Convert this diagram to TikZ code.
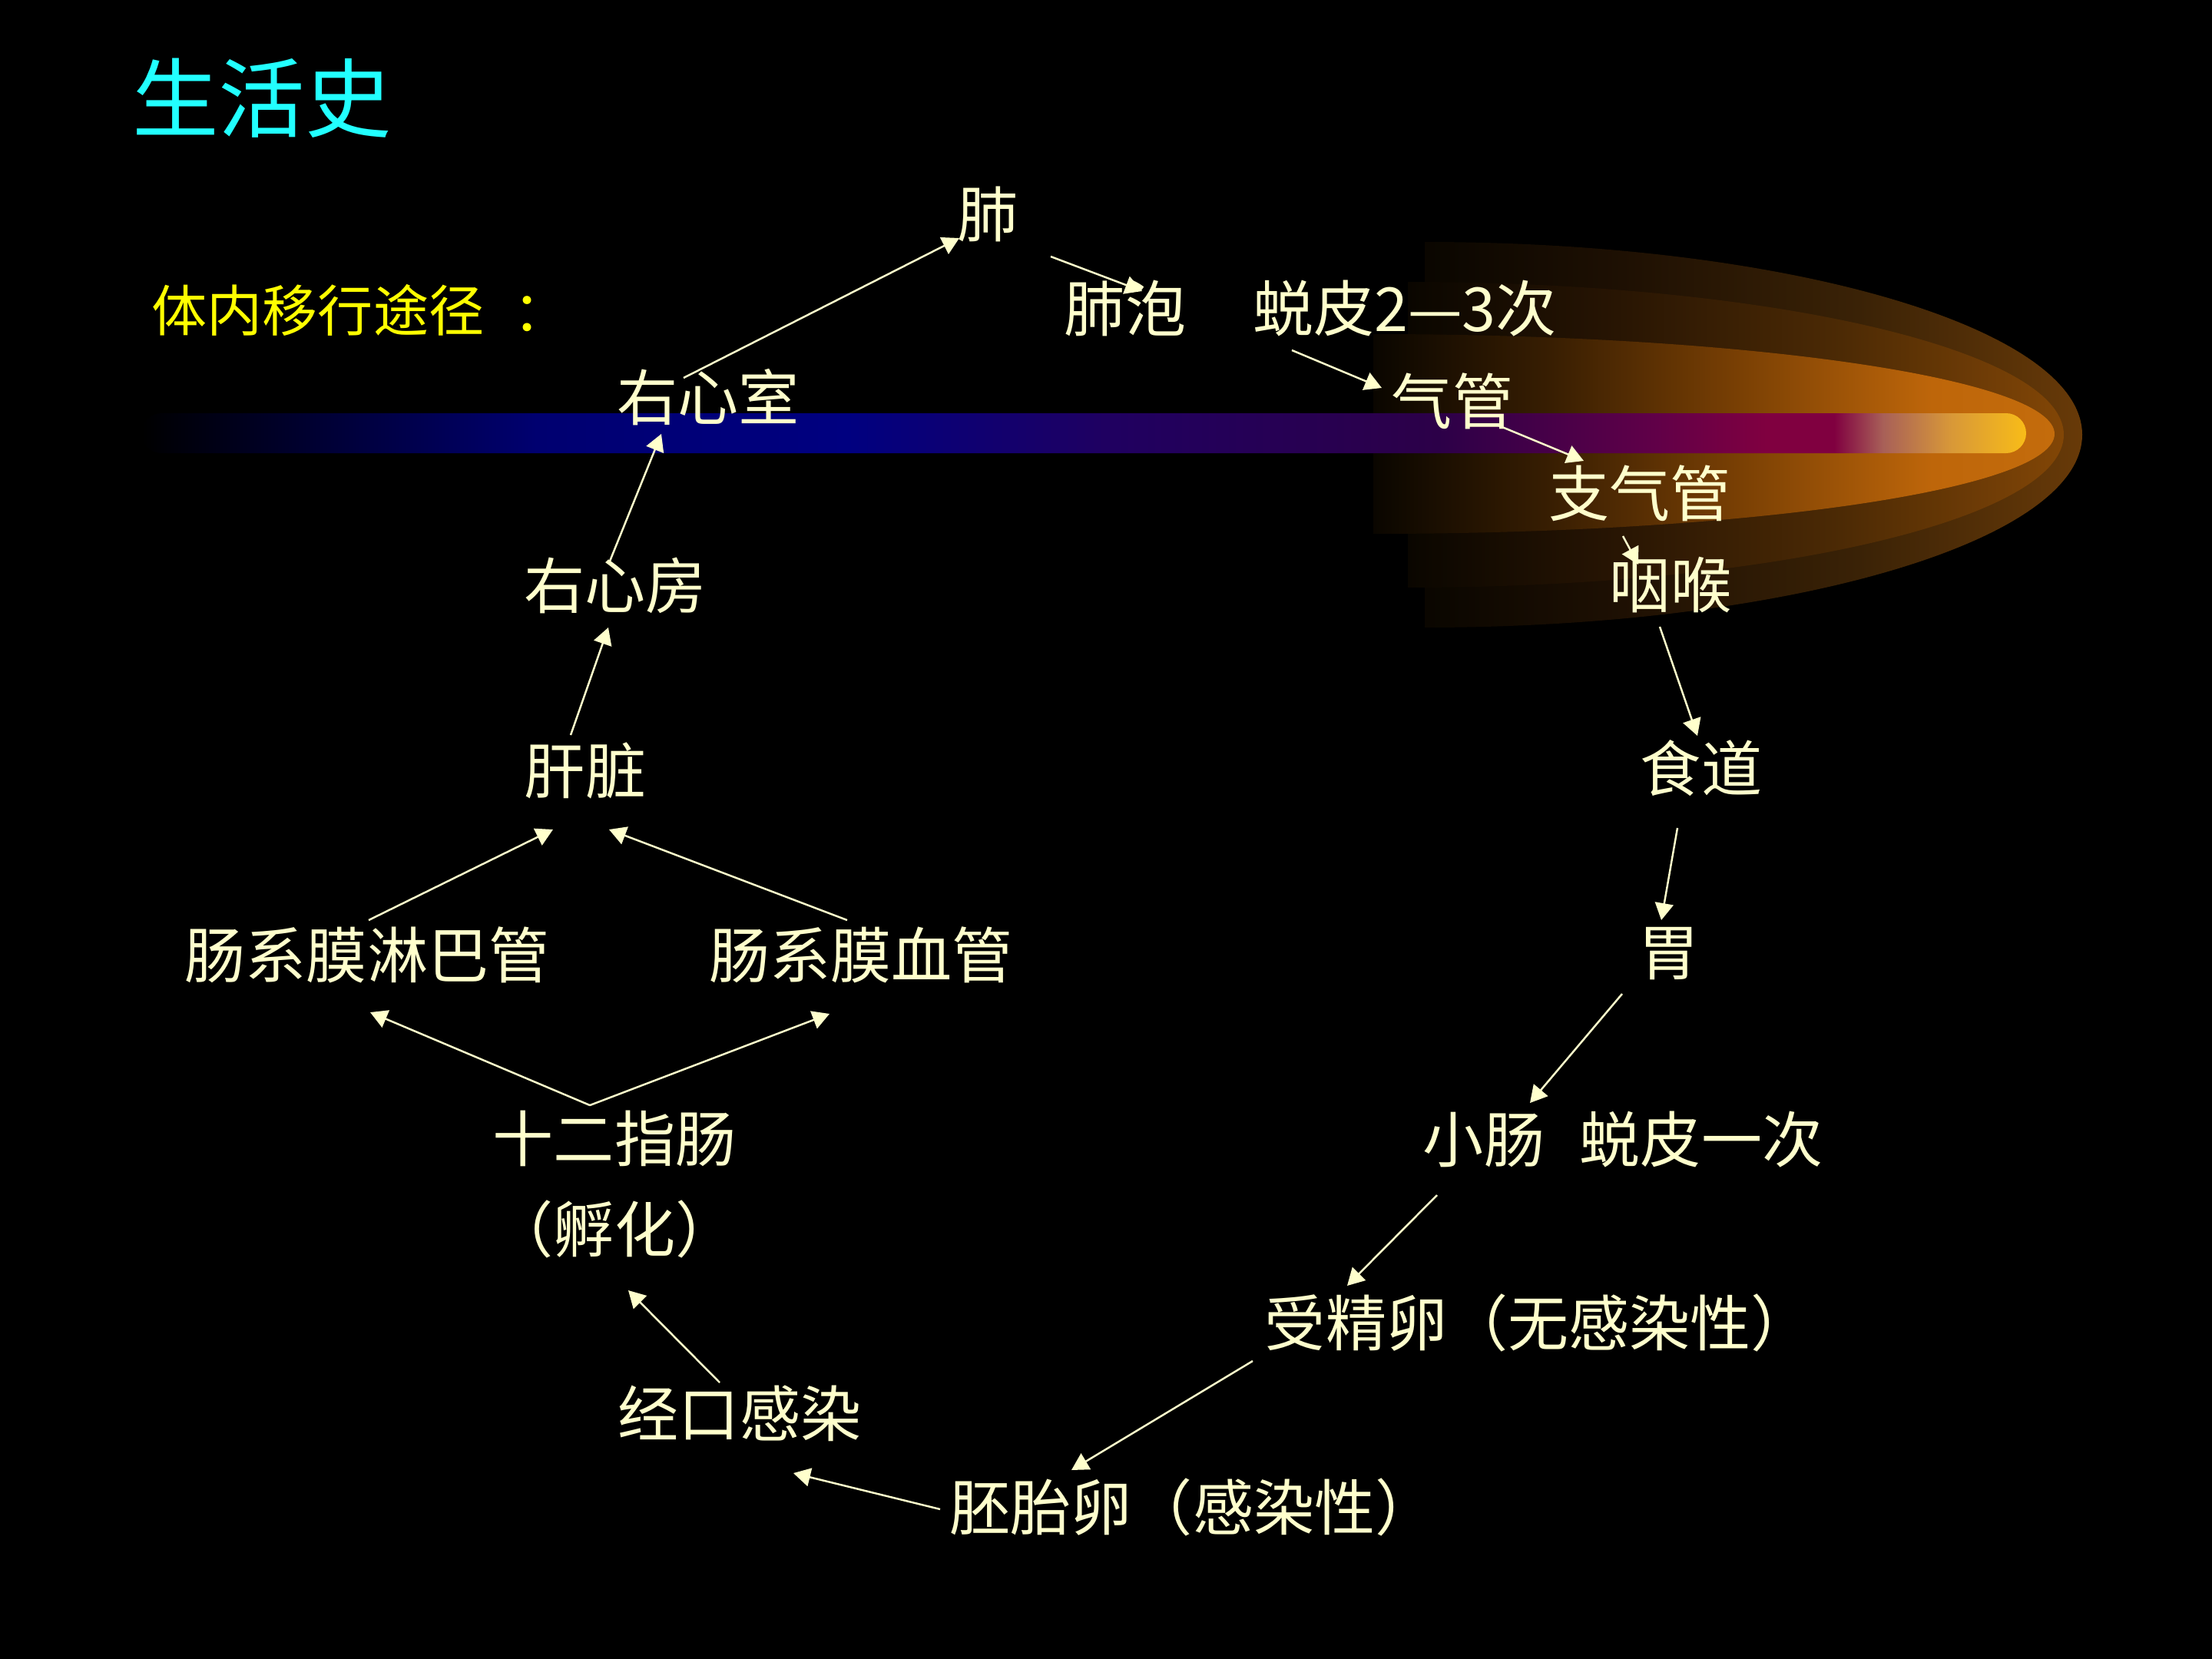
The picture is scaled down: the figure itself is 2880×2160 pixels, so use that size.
\documentclass[tikz,border=0pt]{standalone}
\usepackage{fontspec}
\newfontfamily\cjk{Noto Sans CJK SC}
\usetikzlibrary{arrows.meta}
\usepackage{xcolor}

\definecolor{cream}{HTML}{FFFFCC}
\definecolor{titlecyan}{HTML}{22FFFF}
\definecolor{routeyellow}{HTML}{FFFF00}
% bar colours, left to right
\definecolor{barA}{HTML}{000030}
\definecolor{barB}{HTML}{000070}
\definecolor{barC}{HTML}{000080}
\definecolor{barD}{HTML}{200060}
\definecolor{barE}{HTML}{2C0048}
\definecolor{barF}{HTML}{600048}
\definecolor{barG}{HTML}{800040}
\definecolor{barH}{HTML}{A86058}
\definecolor{barI}{HTML}{D89838}
\definecolor{barJ}{HTML}{F8BC18}
% glow colours
\definecolor{glowdark}{HTML}{0A0600}
\definecolor{gA1}{HTML}{1E1003}
\definecolor{gA2}{HTML}{3A2206}
\definecolor{gA3}{HTML}{683A08}
\definecolor{gB1}{HTML}{261403}
\definecolor{gB2}{HTML}{4C2A05}
\definecolor{gB3}{HTML}{824606}
\definecolor{gC1}{HTML}{381E02}
\definecolor{gC2}{HTML}{7A4004}
\definecolor{gC3}{HTML}{BE660A}
\definecolor{gC4}{HTML}{C46C0C}

\pgfdeclarehorizontalshading{barshade}{100bp}{color(0bp)=(black); color(25bp)=(black);
  color(29.4bp)=(barA); color(35.5bp)=(barB); color(43.7bp)=(barC); color(50.8bp)=(barD);
  color(59.4bp)=(barE); color(65.1bp)=(barF); color(68.1bp)=(barG); color(69.9bp)=(barG);
  color(71.2bp)=(barH); color(73bp)=(barI); color(75bp)=(barJ); color(100bp)=(barJ)}
\pgfdeclarehorizontalshading{glowA}{100bp}{color(0bp)=(glowdark); color(25bp)=(glowdark);
  color(40bp)=(gA1); color(58bp)=(gA2); color(75bp)=(gA3); color(100bp)=(gA3)}
\pgfdeclarehorizontalshading{glowB}{100bp}{color(0bp)=(glowdark); color(25bp)=(glowdark);
  color(40bp)=(gB1); color(58bp)=(gB2); color(75bp)=(gB3); color(100bp)=(gB3)}
\pgfdeclarehorizontalshading{glowC}{100bp}{color(0bp)=(glowdark); color(25bp)=(glowdark);
  color(38bp)=(gC1); color(52bp)=(gC2); color(66bp)=(gC3); color(75bp)=(gC4); color(100bp)=(gC4)}

\begin{document}
\begin{tikzpicture}[x=0.01cm, y=-0.01cm,
  lbl/.style={text=cream, font=\cjk\fontsize{22.5}{27}\selectfont, inner sep=0pt},
  arr/.style={draw=cream, line width=0.7pt, -{Triangle[length=0.22cm, width=0.24cm]}}]
  % background
  \fill[black] (0,0) rectangle (2880,2160);
  \useasboundingbox (0,0) rectangle (2880,2160);

  % comet glow and bar
  \shade[shading=glowA] (1855,817) arc[start angle=90, end angle=-90, x radius=856, y radius=251] -- cycle;
  \shade[shading=glowB] (1833,765) arc[start angle=90, end angle=-90, x radius=854, y radius=199] -- cycle;
  \shade[shading=glowC] (1788,695) arc[start angle=90, end angle=-90, x radius=887, y radius=130] -- cycle;
  \shade[shading=barshade, rounded corners=0.26cm] (184,538) rectangle (2638,590);

  % headings
  \node[text=titlecyan, font=\cjk\fontsize{32}{38}\selectfont, inner sep=0pt] (title) at (341,128) {生活史};
  \node[text=routeyellow, font=\cjk\fontsize{20.5}{24}\selectfont, inner sep=0pt, anchor=west] (route) at (197,404) {体内移行途径\hspace{0.38cm}：};

  % stations
  \node[lbl] (lung) at (1286,279) {肺};
  \node[lbl] (alveoli) at (1465,401) {肺泡};
  \node[lbl] (moltA) at (1829,402) {蜕皮2—3次};
  \node[lbl] (trachea) at (1891,522) {气管};
  \node[lbl] (bronchi) at (2135,642) {支气管};
  \node[lbl] (pharynx) at (2175,762) {咽喉};
  \node[lbl] (esoph) at (2215,1000) {食道};
  \node[lbl] (stomach) at (2173,1242) {胃};
  \node[lbl] (smallint) at (1932,1484) {小肠};
  \node[lbl] (moltB) at (2215,1484) {蜕皮一次};
  \node[lbl] (fegg) at (2003,1722) {受精卵（无感染性）};
  \node[lbl] (eegg) at (1553,1962) {胚胎卵（感染性）};
  \node[lbl] (oral) at (963,1840) {经口感染};
  \node[lbl] (duod) at (800,1482) {十二指肠};
  \node[lbl] (hatch) at (800,1600) {（孵化）};
  \node[lbl] (lymph) at (478,1243) {肠系膜淋巴管};
  \node[lbl] (vessel) at (1121,1243) {肠系膜血管};
  \node[lbl] (liver) at (762,1003) {肝脏};
  \node[lbl] (ratrium) at (801,762) {右心房};
  \node[lbl] (rvent) at (922,517) {右心室};

  % migration route
  \coordinate (fork) at ([shift={(-32,-43)}]duod.center);
  \draw[arr] ([shift={(-19,-46)}]liver.center) -- ([shift={(-9,55)}]ratrium.center);
  \draw[arr] ([shift={(-8,-29)}]ratrium.center) -- ([shift={(-61,48)}]rvent.center);
  \draw[arr] ([shift={(-32,-25)}]rvent.center) -- ([shift={(-37,31)}]lung.center);
  \draw[arr] ([shift={(82,55)}]lung.center) -- ([shift={(22,-22)}]alveoli.center);
  \draw[arr] ([shift={(-147,54)}]moltA.center) -- ([shift={(-92,-17)}]trachea.center);
  \draw[arr] ([shift={(60,32)}]trachea.center) -- ([shift={(-73,-42)}]bronchi.center);
  \draw[arr] ([shift={(-22,56)}]bronchi.center) -- ([shift={(-42,-27)}]pharynx.center);
  \draw[arr] ([shift={(-14,54)}]pharynx.center) -- ([shift={(-5,-42)}]esoph.center);
  \draw[arr] ([shift={(-31,78)}]esoph.center) -- ([shift={(-10,-44)}]stomach.center);
  \draw[arr] ([shift={(-61,52)}]stomach.center) -- ([shift={(60,-48)}]smallint.center);
  \draw[arr] ([shift={(-61,72)}]smallint.center) -- ([shift={(-249,-48)}]fegg.center);
  \draw[arr] ([shift={(-372,50)}]fegg.center) -- ([shift={(-158,-48)}]eegg.center);
  \draw[arr] ([shift={(-329,3)}]eegg.center) -- ([shift={(70,78)}]oral.center);
  \draw[arr] ([shift={(-26,-40)}]oral.center) -- ([shift={(18,80)}]hatch.center);
  \draw[arr] (fork) -- ([shift={(4,75)}]lymph.center);
  \draw[arr] (fork) -- ([shift={(-41,77)}]vessel.center);
  \draw[arr] ([shift={(2,-45)}]lymph.center) -- ([shift={(-42,77)}]liver.center);
  \draw[arr] ([shift={(-18,-45)}]vessel.center) -- ([shift={(31,77)}]liver.center);
\end{tikzpicture}
\end{document}
